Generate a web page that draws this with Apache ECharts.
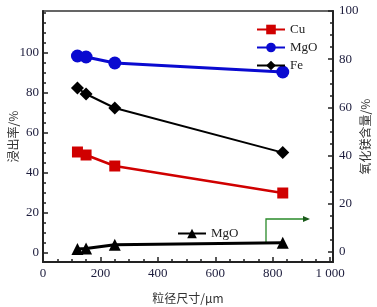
<!DOCTYPE html>
<html lang="zh">
<head>
    <meta charset="UTF-8">
    <title>粒径尺寸</title>
    <script src="https://cdn.jsdelivr.net/npm/echarts@6/dist/echarts.min.js"></script>
    <style>
        html, body { margin: 0; padding: 0; background: #fff; }
        #main { width: 377px; height: 307px; }
    </style>
</head>
<body>
<div id="main"></div>
<script>
    // 粒径尺寸 / μm
    var sizes = [120, 150, 250, 835];
    // 浸出率 / %
    var cu = [50.5, 49, 43.5, 30];
    var mgo = [98.5, 98, 95, 90.5];
    var fe = [82.5, 79.5, 72.5, 50.2];
    // 氧化镁含量 / %
    var mgoContent = [1.2, 1.4, 3.0, 3.8];

    var xLabels = [0, 200, 400, 600, 800, 1000];
    var leftLabels = [0, 20, 40, 60, 80, 100];
    var rightLabels = [0, 20, 40, 60, 80, 100];

    function pairs(ys) {
        return sizes.map(function (x, i) { return [x, ys[i]]; });
    }
    function steps(from, to, step) {
        var out = [];
        for (var v = from; v <= to; v += step) out.push(v);
        return out;
    }

    var labelFont = {fontFamily: 'Liberation Serif', fontSize: 13, color: '#1c1c3c'};
    var nameFont = {fontFamily: 'Noto Sans CJK SC', fontSize: 12, color: '#333'};

    var myChart = echarts.init(document.getElementById('main'));
    var option = {
        animation: false,
        grid: {
            left: 43, right: 44, top: 11, bottom: 45, outerBoundsMode: 'none', containLabel: false,
            show: true, borderColor: '#333', borderWidth: 1.5
        },
        legend: [
            {
                data: ['Cu', 'MgO', 'Fe'],
                orient: 'vertical',
                left: 251, top: 18,
                itemWidth: 28, itemHeight: 12, itemGap: 5,
                textStyle: {fontFamily: 'Liberation Serif', fontSize: 13, color: '#222'}
            },
            {
                data: ['MgO2'],
                left: 172, top: 222,
                itemWidth: 28, itemHeight: 12,
                formatter: function () { return 'MgO'; },
                textStyle: {fontFamily: 'Liberation Serif', fontSize: 13, color: '#222'}
            }
        ],
        xAxis: {
            type: 'value', min: 0, max: 1010, interval: 200,
            name: '粒径尺寸/μm', nameLocation: 'middle', nameGap: 30, nameMoveOverlap: false, nameTextStyle: nameFont,
            axisLine: {onZero: false, lineStyle: {color: '#222', width: 2}},
            axisTick: {inside: true, length: 5, lineStyle: {color: '#222', width: 1.5}},
            minorTick: {show: true, splitNumber: 4, length: 3, lineStyle: {color: '#222', width: 1.5}},
            axisLabel: Object.assign({
                showMaxLabel: false, margin: 5,
                formatter: function (v) { return v === 1000 ? '1 000' : v; }
            }, labelFont),
            splitLine: {show: false},
            minorSplitLine: {show: false}
        },
        yAxis: [
            {
                type: 'value', min: -4.5, max: 121, position: 'left',
                name: '浸出率/%', nameLocation: 'middle', nameGap: 24, nameRotate: 90, nameMoveOverlap: false, nameTextStyle: nameFont,
                axisLine: {onZero: false, lineStyle: {color: '#222', width: 2}},
                axisTick: {inside: true, length: 5, customValues: leftLabels, lineStyle: {color: '#222', width: 1.5}},
                axisLabel: Object.assign({customValues: leftLabels, margin: 4}, labelFont),
                splitLine: {show: false}
            },
            {
                type: 'value', min: -4.5, max: 121, position: 'left', offset: 0,
                axisLine: {show: false, onZero: false},
                axisTick: {inside: true, length: 3, customValues: steps(5, 120, 5), lineStyle: {color: '#222', width: 1.5}},
                axisLabel: {show: false},
                splitLine: {show: false}
            },
            {
                type: 'value', min: -4.2, max: 100, position: 'right',
                name: '氧化镁含量/%', nameLocation: 'middle', nameGap: 26, nameRotate: 90, nameMoveOverlap: false, nameTextStyle: nameFont,
                axisLine: {show: true, onZero: false, lineStyle: {color: '#222', width: 2}},
                axisTick: {inside: true, length: 5, customValues: rightLabels, lineStyle: {color: '#222', width: 1.5}},
                axisLabel: Object.assign({customValues: rightLabels, margin: 6}, labelFont),
                splitLine: {show: false}
            },
            {
                type: 'value', min: -4.2, max: 100, position: 'right', offset: 0,
                axisLine: {show: false, onZero: false},
                axisTick: {inside: true, length: 3, customValues: steps(5, 95, 5), lineStyle: {color: '#222', width: 1.5}},
                axisLabel: {show: false},
                splitLine: {show: false}
            }
        ],
        series: [
            {
                name: 'Cu', type: 'line', yAxisIndex: 0, data: pairs(cu),
                symbol: 'rect', symbolSize: 11,
                itemStyle: {color: '#d00000'}, lineStyle: {color: '#d00000', width: 2.5}
            },
            {
                name: 'MgO', type: 'line', yAxisIndex: 0, data: pairs(mgo),
                symbol: 'circle', symbolSize: 13,
                itemStyle: {color: '#0a0ad0'}, lineStyle: {color: '#0a0ad0', width: 3}
            },
            {
                name: 'Fe', type: 'line', yAxisIndex: 0, data: pairs(fe),
                symbol: 'diamond', symbolSize: 13,
                itemStyle: {color: '#000'}, lineStyle: {color: '#000', width: 2}
            },
            {
                name: 'MgO2', type: 'line', yAxisIndex: 2, data: pairs(mgoContent),
                symbol: 'triangle', symbolSize: 12,
                itemStyle: {color: '#000'}, lineStyle: {color: '#000', width: 3}
            }
        ],
        graphic: [
            {
                type: 'polyline', silent: true,
                shape: {points: [[266, 243], [266, 219], [304, 219]]},
                style: {stroke: '#2a8a2a', lineWidth: 1.3, fill: null}
            },
            {
                type: 'polygon', silent: true,
                shape: {points: [[303, 216], [310, 219], [303, 222]]},
                style: {fill: '#1a5a1a'}
            }
        ]
    };
    myChart.setOption(option);
</script>
</body>
</html>
